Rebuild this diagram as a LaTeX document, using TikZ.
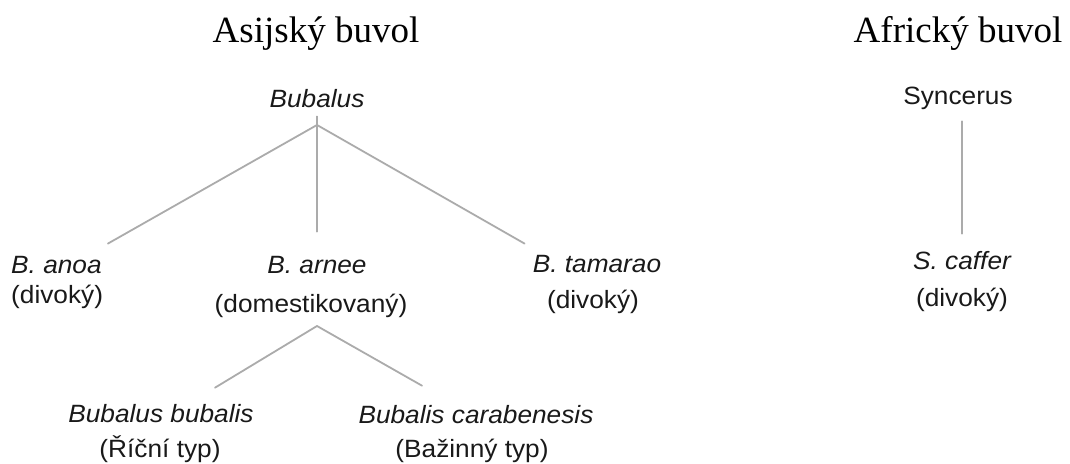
\documentclass[tikz,border=0pt]{standalone}
\usepackage{fontspec}
\setmainfont{Liberation Serif}
\newfontfamily\labelfont[FakeStretch=1.05]{Liberation Sans}
\begin{document}
\begin{tikzpicture}[line cap=round,line join=round,x=1pt,y=-1pt,
  title/.style={font=\fontsize{37}{44}\selectfont,inner sep=0pt,anchor=base},
  taxon/.style={font=\labelfont\itshape\fontsize{25}{30}\selectfont,text=black!90,inner sep=0pt,anchor=base},
  note/.style={font=\labelfont\fontsize{25}{30}\selectfont,text=black!90,inner sep=0pt,anchor=base},
  branch/.style={line width=1.8pt,color=black!33}]
\useasboundingbox (0,0) rectangle (1070,463);
\node[title] (asia) at (316,42) {Asijský buvol};
\node[title] (africa) at (958,42) {Africký buvol};
\node[taxon] (bubalus) at (317,107) {Bubalus};
\node[taxon,anchor=base west] (anoa) at (11,273) {B. anoa};
\node[note,anchor=base west] (anoa-note) at (11,303) {(divoký)};
\node[taxon] (arnee) at (317,273) {B. arnee};
\node[note] (arnee-note) at (311,312) {(domestikovaný)};
\node[taxon] (tamarao) at (597,272) {B. tamarao};
\node[note] (tamarao-note) at (593,308) {(divoký)};
\node[taxon] (bubalis) at (161,422) {Bubalus bubalis};
\node[note] (bubalis-note) at (160,457) {(Říční typ)};
\node[taxon] (carab) at (476,423) {Bubalis carabenesis};
\node[note] (carab-note) at (472,457) {(Bažinný typ)};
\node[note] (syncerus) at (958,104) {Syncerus};
\node[taxon] (caffer) at (962,269) {S. caffer};
\node[note] (caffer-note) at (962,306) {(divoký)};
\coordinate (bubalus-fork) at (317,125);
\coordinate (arnee-fork) at (317,326);
\draw[branch,shorten <=9pt] (bubalus.south) -- (bubalus-fork);
\draw[branch] (bubalus-fork) -- ([xshift=6pt,yshift=12pt]anoa.north east);
\draw[branch] (bubalus-fork) -- ([yshift=24pt]arnee.north);
\draw[branch] (bubalus-fork) -- ([xshift=-8pt,yshift=11pt]tamarao.north west);
\draw[branch] (arnee-fork) -- ([xshift=54pt,yshift=16pt]bubalis.north);
\draw[branch] (arnee-fork) -- ([xshift=-54pt,yshift=19pt]carab.north);
\draw[branch,shorten <=12pt,shorten >=17pt] (caffer.north |- syncerus.south) -- (caffer.north);
\end{tikzpicture}
\end{document}
